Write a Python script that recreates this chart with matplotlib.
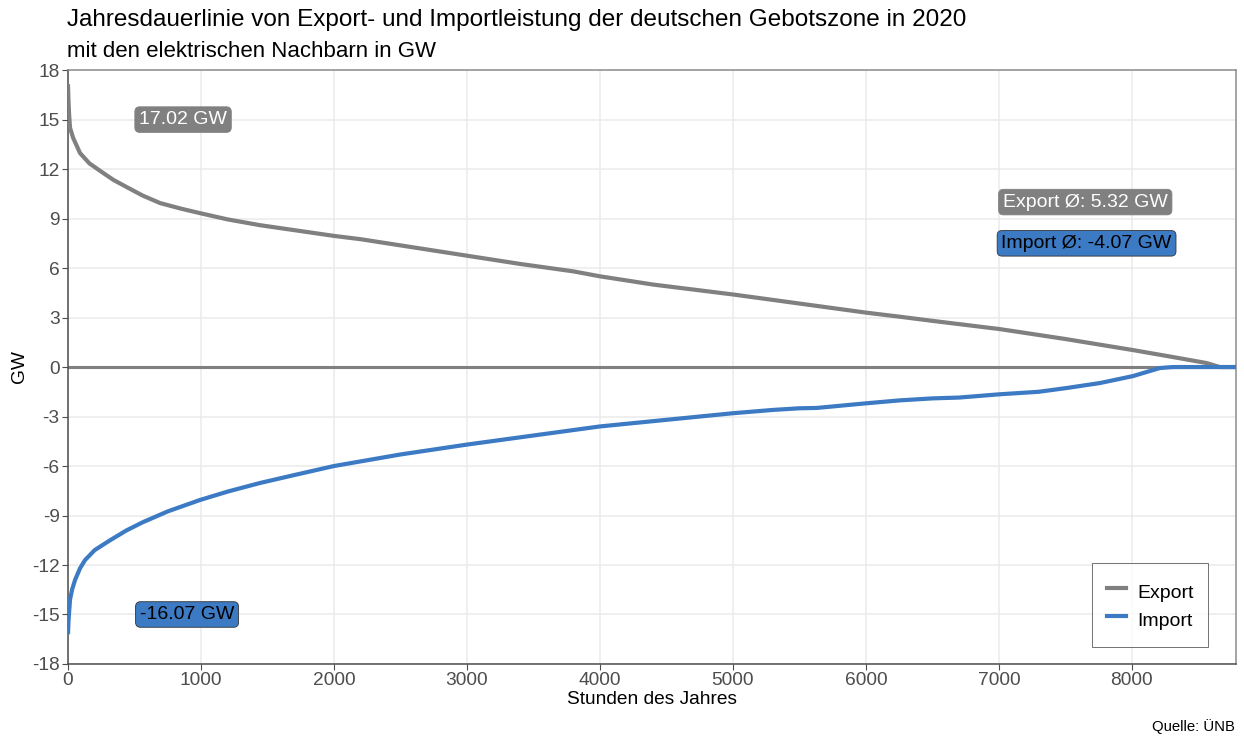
import matplotlib.pyplot as plt

plt.rcParams['font.family'] = ['Liberation Sans', 'DejaVu Sans']
plt.rcParams['axes.unicode_minus'] = False

export_h = [0, 3, 8, 15, 38, 90, 160, 240, 340, 443, 560, 692, 850, 992, 1200, 1443, 1700,
            2000, 2200, 2600, 3000, 3400, 3800, 4000, 4400, 5000, 5500, 6000, 6256, 6500,
            7008, 7500, 8008, 8300, 8564, 8662, 8784]
export_gw = [17.02, 16.2, 15.3, 14.5, 13.9, 12.97, 12.35, 11.9, 11.35, 10.9, 10.4, 9.94,
             9.6, 9.33, 8.95, 8.6, 8.3, 7.95, 7.75, 7.25, 6.75, 6.25, 5.8, 5.5, 5.0, 4.4,
             3.85, 3.3, 3.05, 2.8, 2.3, 1.7, 1.03, 0.62, 0.24, 0.0, 0.0]

import_h = [0, 4, 15, 30, 53, 90, 128, 200, 316, 440, 564, 750, 992, 1200, 1443, 1700,
            2000, 2500, 3000, 3500, 4000, 4500, 5000, 5300, 5500, 5630, 6000, 6256, 6500,
            6700, 7008, 7300, 7511, 7760, 8008, 8211, 8308, 8784]
import_gw = [-16.07, -15.3, -14.1, -13.5, -12.9, -12.2, -11.7, -11.1, -10.5, -9.9, -9.4,
             -8.75, -8.06, -7.55, -7.03, -6.55, -6.0, -5.3, -4.7, -4.15, -3.6, -3.2, -2.8,
             -2.6, -2.5, -2.48, -2.2, -2.02, -1.9, -1.85, -1.65, -1.5, -1.27, -0.97, -0.55,
             -0.06, 0.0, 0.0]

export_max = 17.02
import_min = -16.07
export_mean = 5.32
import_mean = -4.07

c_export = '#808080'
c_import = '#3C7AC4'

fig = plt.figure(figsize=(12.44, 7.38), dpi=100)
ax = fig.add_axes([0.0547, 0.1003, 0.9389, 0.8047])

ax.axhline(0, color=c_export, lw=2.2, zorder=2)
ax.plot(export_h, export_gw, color=c_export, lw=3, label='Export', zorder=3)
ax.plot(import_h, import_gw, color=c_import, lw=3, label='Import', zorder=3)

ax.set_xlim(0, 8784)
ax.set_ylim(-18, 18)
ax.set_yticks(range(-18, 19, 3))
ax.set_xticks(range(0, 8001, 1000))
ax.grid(True, color='#EBEBEB', lw=1.1, zorder=0)
ax.set_axisbelow(True)
ax.tick_params(colors='#4D4D4D', labelsize=13.8, length=4, pad=2)
for s in ['top', 'right']:
    ax.spines[s].set_color('#8C8C8C')
for s in ['left', 'bottom']:
    ax.spines[s].set_color('#4D4D4D')
for s in ax.spines.values():
    s.set_linewidth(1.1)

ax.set_xlabel('Stunden des Jahres', fontsize=13.8, labelpad=1)
ax.set_ylabel('GW', fontsize=13.8, labelpad=3)


def label(x, y, txt, fc, tc):
    ax.text(x, y, txt, fontsize=14, color=tc, ha='center', va='center', zorder=5,
            bbox=dict(boxstyle='round,pad=0.22,rounding_size=0.25', fc=fc,
                      ec='#333333' if tc == 'black' else fc, lw=0.6))


label(865, 15, f'{export_max:.2f} GW', c_export, 'white')
label(895, -15, f'{import_min:.2f} GW', c_import, 'black')
label(7650, 10, f'Export Ø: {export_mean:.2f} GW', c_export, 'white')
label(7660, 7.5, f'Import Ø: {import_mean:.2f} GW', c_import, 'black')

leg = ax.legend(loc='lower right', bbox_to_anchor=(0.976, 0.028), borderaxespad=0,
                fontsize=14, frameon=True, fancybox=False, edgecolor='#333333',
                handlelength=1.0, borderpad=0.75, handleheight=1.75, labelspacing=0.06,
                handletextpad=0.55)
leg.get_frame().set_linewidth(0.6)

fig.text(0.054, 0.973, 'Jahresdauerlinie von Export- und Importleistung der deutschen Gebotszone in 2020',
         fontsize=17.5, va='center', ha='left')
fig.text(0.054, 0.93, 'mit den elektrischen Nachbarn in GW', fontsize=16, va='center', ha='left')
fig.text(0.993, 0.015, 'Quelle: ÜNB', fontsize=10.7, ha='right', va='center')

fig.savefig('out.png', dpi=100)
